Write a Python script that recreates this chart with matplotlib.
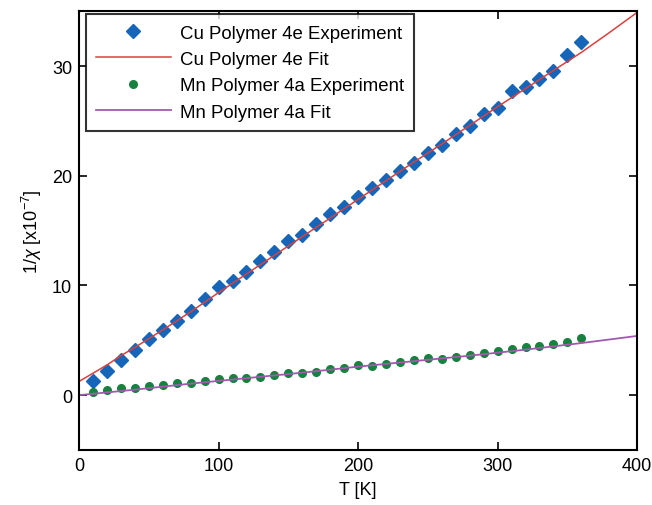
import numpy as np
import matplotlib.pyplot as plt

plt.rcParams['font.family'] = ['Liberation Sans', 'DejaVu Sans']
plt.rcParams['mathtext.fontset'] = 'custom'
plt.rcParams['mathtext.rm'] = 'Liberation Sans'
plt.rcParams['mathtext.it'] = 'Liberation Sans:italic'

# measured inverse susceptibility
temps = np.arange(10, 361, 10)
cu_exp = [1.3, 2.2, 3.2, 4.1, 5.1, 5.9, 6.8, 7.7, 8.75, 9.88,
          10.4, 11.25, 12.2, 13.06, 14.06, 14.6, 15.6, 16.5, 17.2, 18.06,
          18.9, 19.6, 20.4, 21.2, 22.1, 22.85, 23.8, 24.5, 25.6, 26.2,
          27.75, 28.06, 28.8, 29.6, 31.0, 32.2]
mn_exp = [0.33, 0.48, 0.64, 0.64, 0.79, 0.94, 1.09, 1.1, 1.3, 1.45,
          1.6, 1.55, 1.7, 1.85, 2.06, 2.0, 2.15, 2.4, 2.5, 2.76,
          2.67, 2.85, 3.05, 3.2, 3.36, 3.3, 3.5, 3.66, 3.88, 4.06,
          4.18, 4.36, 4.5, 4.66, 4.88, 5.18]

# fitted curves
cu_fit_T = [0, 10, 20, 30, 40, 60, 80, 100, 120, 140, 160, 180, 200, 220,
            240, 260, 280, 300, 320, 340, 360, 380, 400]
cu_fit = [1.25, 2.0, 2.75, 3.6, 4.35, 5.95, 7.6, 9.35, 11.05, 12.75, 14.45,
          16.15, 17.85, 19.55, 21.25, 22.9, 24.6, 26.3, 27.95, 29.6, 31.25,
          33.05, 34.9]
mn_fit_T = [0, 40, 80, 120, 160, 200, 240, 280, 320, 360, 400]
mn_fit = [0.0, 0.5, 1.05, 1.55, 2.05, 2.6, 3.1, 3.6, 4.15, 4.75, 5.4]

fig = plt.figure(figsize=(6.52, 5.06), dpi=100)
ax = fig.add_axes([0.1212, 0.1087, 0.856, 0.867])

ax.plot(temps, cu_exp, 'D', color='#1565b8', markersize=7, label='Cu Polymer 4e Experiment')
ax.plot(cu_fit_T, cu_fit, '-', color='#d9403f', linewidth=1.1, label='Cu Polymer 4e Fit')
ax.plot(temps, mn_exp, 'o', color='#17823f', markersize=5.5, label='Mn Polymer 4a Experiment')
ax.plot(mn_fit_T, mn_fit, '-', color='#a15ab0', linewidth=1.3, label='Mn Polymer 4a Fit')

ax.set_xlim(0, 400)
ax.set_ylim(-5, 35)
ax.set_xticks([0, 100, 200, 300, 400])
ax.set_yticks([0, 10, 20, 30])
ax.tick_params(direction='in', length=6, width=1.2, top=True, right=True,
               labelsize=13, pad=5)
for s in ax.spines.values():
    s.set_linewidth(1.5)

ax.set_xlabel('T [K]', fontsize=13, labelpad=5)
ax.set_ylabel('1/$\\chi$ [x10$^{-7}$]', fontsize=13, labelpad=6)

leg = ax.legend(loc='upper left', bbox_to_anchor=(0.0125, 0.993), borderaxespad=0,
                fontsize=13.4, handlelength=4.0, frameon=True, fancybox=False,
                labelspacing=0.5, handletextpad=0.5, borderpad=0.55)
leg.get_frame().set_edgecolor('black')
leg.get_frame().set_linewidth(1.5)

fig.savefig('out.png', dpi=100)
